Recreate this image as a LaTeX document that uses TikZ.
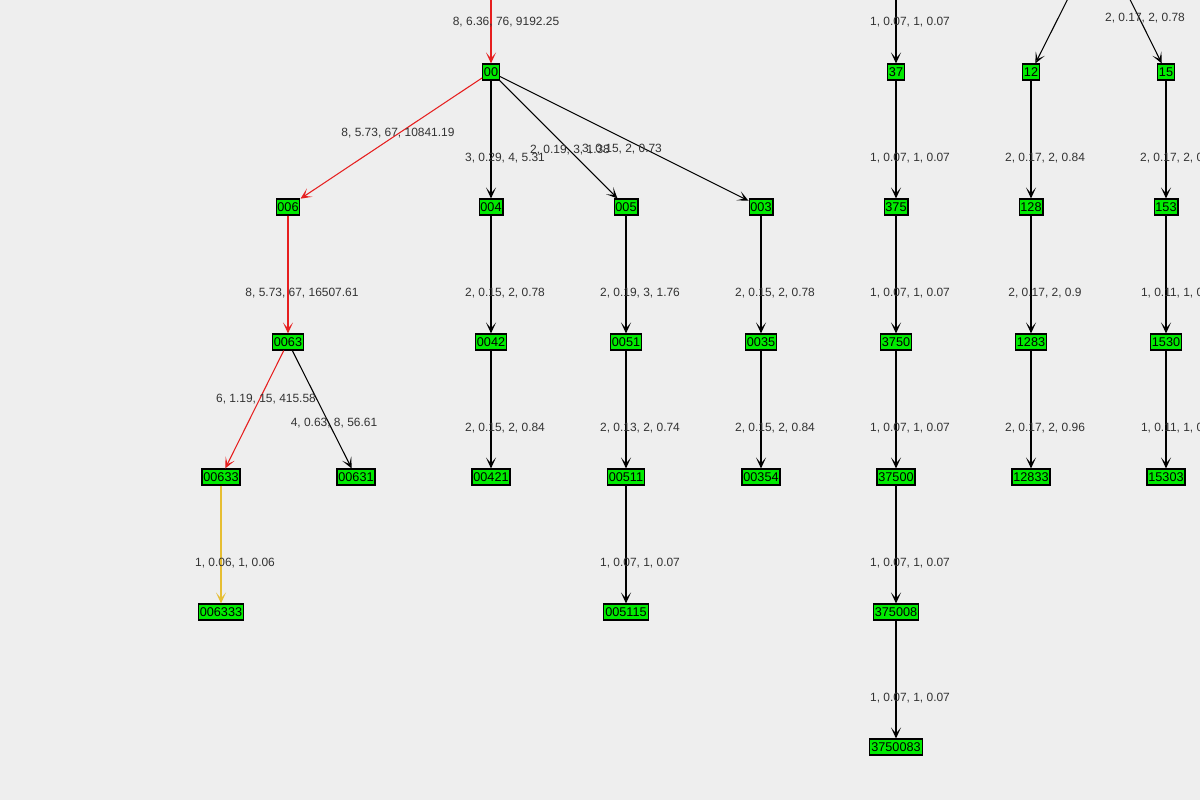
\documentclass[tikz,border=0pt]{standalone}
\usepackage{fontspec}
\setmainfont{Liberation Sans}
\usetikzlibrary{arrows.meta}

\definecolor{bgcol}{RGB}{238,238,238}
\definecolor{vertexgreen}{RGB}{0,235,0}
\definecolor{pathred}{RGB}{230,30,30}
\definecolor{leafyellow}{RGB}{230,190,50}

\tikzset{
  vertex/.style={draw=black,fill=vertexgreen,inner xsep=0.4pt,inner ysep=0pt,minimum height=0.16cm,
    text height=2.7pt,text depth=0pt,line width=0.3pt,font=\fontsize{3.6}{4}\selectfont},
  arc/.style={-{Stealth[length=0.11cm,width=0.1cm,inset=0.06cm,fill=gray!60]},draw=black,line width=0.3pt},
  redarc/.style={arc,draw=pathred},
  yelarc/.style={arc,draw=leafyellow},
  weight/.style={font=\fontsize{3.4}{4}\selectfont,text=black!80,inner sep=0pt}
}

\begin{document}
\begin{tikzpicture}[x=0.01cm,y=-0.01cm]
\fill[bgcol] (0,0) rectangle (1200,800);
\useasboundingbox (0,0) rectangle (1200,800);
\clip (0,0) rectangle (1200,800);

% vertices
\coordinate (root) at (491,-63);
\coordinate (root2) at (896,-63);
\coordinate (root3) at (1099,-63);
\node[vertex] (v00) at (491,72) {00};
\node[vertex] (v006) at (288,207) {006};
\node[vertex] (v004) at (491,207) {004};
\node[vertex] (v005) at (626,207) {005};
\node[vertex] (v003) at (761,207) {003};
\node[vertex] (v0063) at (288,342) {0063};
\node[vertex] (v0042) at (491,342) {0042};
\node[vertex] (v0051) at (626,342) {0051};
\node[vertex] (v0035) at (761,342) {0035};
\node[vertex] (v00633) at (221,477) {00633};
\node[vertex] (v00631) at (356,477) {00631};
\node[vertex] (v00421) at (491,477) {00421};
\node[vertex] (v00511) at (626,477) {00511};
\node[vertex] (v00354) at (761,477) {00354};
\node[vertex] (v006333) at (221,612) {006333};
\node[vertex] (v005115) at (626,612) {005115};
\node[vertex] (v37) at (896,72) {37};
\node[vertex] (v375) at (896,207) {375};
\node[vertex] (v3750) at (896,342) {3750};
\node[vertex] (v37500) at (896,477) {37500};
\node[vertex] (v375008) at (896,612) {375008};
\node[vertex] (v3750083) at (896,747) {3750083};
\node[vertex] (v12) at (1031,72) {12};
\node[vertex] (v128) at (1031,207) {128};
\node[vertex] (v1283) at (1031,342) {1283};
\node[vertex] (v12833) at (1031,477) {12833};
\node[vertex] (v15) at (1166,72) {15};
\node[vertex] (v153) at (1166,207) {153};
\node[vertex] (v1530) at (1166,342) {1530};
\node[vertex] (v15303) at (1166,477) {15303};

% slanted edges
\draw[redarc] (root) -- (v00);
\draw[redarc] (v00) -- (v006);
\draw[arc] (v00) -- (v005);
\draw[arc] (v00) -- (v003);
\draw[redarc] (v0063) -- (v00633);
\draw[arc] (v0063) -- (v00631);
\draw[arc] (root3) -- (v12);
\draw[arc] (root3) -- (v15);
\node[weight] at (506,22) {8, 6.36, 76, 9192.25};
\node[weight] at (398,133) {8, 5.73, 67, 10841.19};
\node[weight] at (570,150) {2, 0.19, 3, 1.38};
\node[weight] at (622,149) {3, 0.15, 2, 0.73};
\node[weight] at (266,399) {6, 1.19, 15, 415.58};
\node[weight] at (334,423) {4, 0.63, 8, 56.61};
\node[weight] at (1145,18) {2, 0.17, 2, 0.78};
\node[weight] at (1030,-5) {2, 0.17, 2, 0.84};

% vertical edges
\foreach \a/\b/\w/\s in {v00/v004/{3, 0.29, 4, 5.31}/arc, v006/v0063/{8, 5.73, 67, 16507.61}/redarc,
  v004/v0042/{2, 0.15, 2, 0.78}/arc, v005/v0051/{2, 0.19, 3, 1.76}/arc, v003/v0035/{2, 0.15, 2, 0.78}/arc,
  v0042/v00421/{2, 0.15, 2, 0.84}/arc, v0051/v00511/{2, 0.13, 2, 0.74}/arc, v0035/v00354/{2, 0.15, 2, 0.84}/arc,
  v00633/v006333/{1, 0.06, 1, 0.06}/yelarc, v00511/v005115/{1, 0.07, 1, 0.07}/arc,
  v37/v375/{1, 0.07, 1, 0.07}/arc, v375/v3750/{1, 0.07, 1, 0.07}/arc,
  v3750/v37500/{1, 0.07, 1, 0.07}/arc, v37500/v375008/{1, 0.07, 1, 0.07}/arc, v375008/v3750083/{1, 0.07, 1, 0.07}/arc,
  v12/v128/{2, 0.17, 2, 0.84}/arc, v128/v1283/{2, 0.17, 2, 0.9}/arc, v1283/v12833/{2, 0.17, 2, 0.96}/arc,
  v15/v153/{2, 0.17, 2, 0.84}/arc, v153/v1530/{1, 0.11, 1, 0.11}/arc, v1530/v15303/{1, 0.11, 1, 0.11}/arc}
  \draw[\s] (\a) -- node[weight,pos=.66,xshift=0.14cm]{\w} (\b);
\draw[arc] (root2) -- (v37);
\node[weight] at (910,22) {1, 0.07, 1, 0.07};
\end{tikzpicture}
\end{document}
